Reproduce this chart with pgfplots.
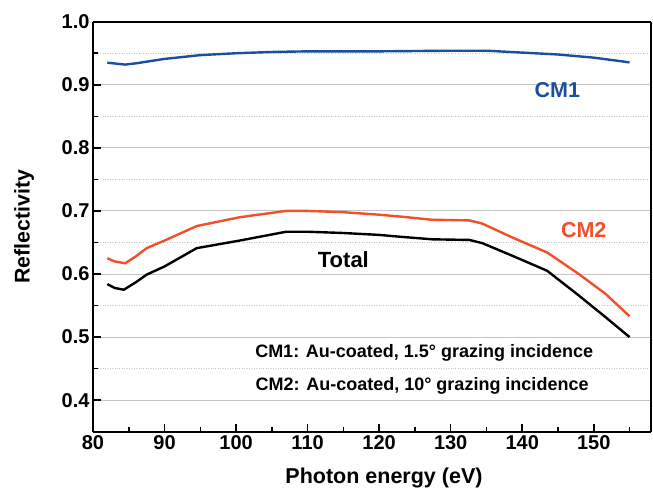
\documentclass[border=0pt]{standalone}
\usepackage{pgfplots}
\pgfplotsset{compat=1.18}
\usepackage{fontspec}
\setmainfont{Liberation Sans}

\definecolor{cmblue}{HTML}{1A4F9E}
\definecolor{cmorange}{HTML}{F0502A}
\definecolor{gridgray}{HTML}{C4C4C4}

\begin{document}
\begin{tikzpicture}
\useasboundingbox (-93pt,-60pt) rectangle (560pt,431.7pt);
\begin{axis}[
  at={(0,0)}, anchor=south west,
  width=558pt, height=410pt, scale only axis,
  xmin=80, xmax=158, ymin=0.35, ymax=1.0,
  xtick={80,90,...,150}, minor xtick={85,95,...,155},
  ytick={0.4,0.5,0.6,0.7,0.8,0.9,1.0},
  minor ytick={0.45,0.55,0.65,0.75,0.85,0.95},
  yticklabel style={/pgf/number format/fixed,
    /pgf/number format/fixed zerofill, /pgf/number format/precision=1},
  /pgf/number format/assume math mode=true,
  separate axis lines,
  axis line style={black, line width=1.8pt},
  ymajorgrids, yminorgrids,
  major grid style={gridgray, line width=0.9pt},
  minor grid style={gridgray, dotted, line width=0.9pt},
  tick align=inside, xtick pos=bottom, ytick pos=left,
  major tick length=8pt, minor tick length=5pt,
  every tick/.style={black, line width=1.6pt},
  ticklabel style={font=\fontsize{20}{22}\selectfont\bfseries},
  xlabel={Photon energy (eV)}, ylabel={Reflectivity},
  every axis x label/.style={at={(axis description cs:0.5,0)},
    anchor=base, xshift=12pt, yshift=-52pt,
    font=\fontsize{21.5}{24}\selectfont\bfseries},
  every axis y label/.style={at={(axis description cs:0,0.5)},
    xshift=-69pt, rotate=90, anchor=center,
    font=\fontsize{21.3}{24}\selectfont\bfseries},
  clip=false,
]
% CM1 mirror reflectivity
\addplot[cmblue, line width=2.4pt, line join=round] coordinates {
  (82,0.935) (84.5,0.932) (86,0.934) (90,0.941) (95,0.947) (100,0.950)
  (105,0.952) (110,0.953) (120,0.953) (130,0.954) (135,0.954) (140,0.951)
  (145,0.948) (150,0.943) (155,0.9355)
};
% CM2 mirror reflectivity
\addplot[cmorange, line width=2.4pt, line join=round] coordinates {
  (82,0.625) (83,0.620) (84.5,0.617) (86,0.628) (87.5,0.641) (90,0.653)
  (94.5,0.676) (100.5,0.690) (107,0.700) (110,0.700) (115,0.698)
  (120,0.694) (123,0.691) (127.4,0.686) (132.6,0.685) (134.4,0.680)
  (138.6,0.658) (143.5,0.634) (147.9,0.600) (151.6,0.569) (155,0.533)
};
% Total (product of both mirrors)
\addplot[black, line width=2.4pt, line join=round] coordinates {
  (82,0.584) (83,0.578) (84.3,0.575) (86,0.587) (87.5,0.599) (90,0.612)
  (94.5,0.641) (100.5,0.653) (107,0.667) (110,0.667) (115,0.665)
  (120,0.662) (123,0.659) (127.4,0.655) (132.6,0.654) (134.4,0.649)
  (138.6,0.629) (143.5,0.605) (147.9,0.566) (151.6,0.532) (155,0.500)
};
\node[text=cmblue, font=\fontsize{21.5}{24}\selectfont\bfseries]
  at (axis cs:144.9,0.892) {CM1};
\node[text=cmorange, font=\fontsize{21.5}{24}\selectfont\bfseries]
  at (axis cs:148.6,0.669) {CM2};
\node[text=black, font=\fontsize{22}{24}\selectfont\bfseries]
  at (axis cs:115.0,0.623) {Total};
\node[anchor=base, font=\fontsize{18}{20}\selectfont\bfseries]
  at (axis cs:126.3,0.4674) {CM1: Au-coated, 1.5° grazing incidence};
\node[anchor=base, font=\fontsize{18}{20}\selectfont\bfseries]
  at (axis cs:126.0,0.4158) {CM2: Au-coated, 10° grazing incidence};
\end{axis}
\end{tikzpicture}
\end{document}
